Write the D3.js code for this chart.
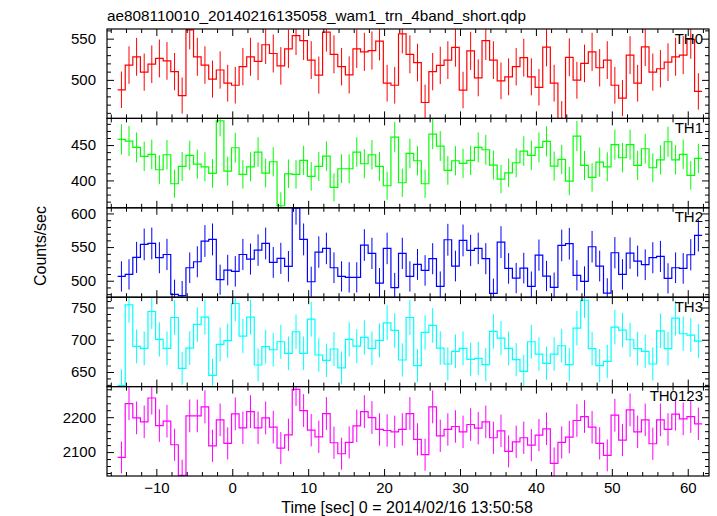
<!DOCTYPE html>
<html>
<head>
<meta charset="utf-8">
<script src="https://cdn.jsdelivr.net/npm/d3@7"></script>
<style>
  html, body { margin: 0; padding: 0; background: #fff; }
  svg { display: block; font-family: "Liberation Sans", Arial, Helvetica, sans-serif; }
</style>
</head>
<body>
<svg id="chart" width="717" height="516"></svg>
<script>
// ---- data (1 s bins) ----
const binStart = -15.1;
const binWidth = 1;
const th0 = [488, 518, 528, 509.4, 519, 526, 523, 510, 481, 560.6,
  528, 518, 501, 512, 496, 493.5, 516, 528, 522.5, 542.6,
  532, 517, 537.7, 553.7, 547.5, 524, 505.8, 558, 531, 516,
  506, 537.7, 534, 535.6, 547, 496, 493.5, 555.7, 531, 521,
  472.6, 510, 517.6, 524, 539.3, 487.7, 535.2, 502.5, 547.5, 524,
  498.8, 503.7, 516, 527, 503.7, 491, 539.7, 496, 453, 527.4,
  499.6, 520, 534, 514.7, 524, 493.5, 477.9, 530, 496, 540,
  509.4, 513.5, 521.5, 528, 530, 549, 486];
const th1 = [458.0, 455.7, 446.7, 434.0, 436.8, 415.1, 436.3, 395.3, 419.8, 435.4,
  423.1, 419.3, 409.9, 484.4, 413.2, 446.2, 408.5, 419.3, 440.1, 410.4,
  426.4, 364.2, 409.4, 408.5, 428.3, 405.7, 419.8, 434.4, 390.1, 416.5,
  416.5, 440.1, 423.6, 436.3, 419.8, 392.5, 461.3, 396.7, 438.2, 427.8,
  395.3, 465.6, 448.6, 414.2, 427.8, 424.1, 428.3, 446.7, 443.4, 421.7,
  401.9, 410.8, 425.0, 441.5, 435.4, 446.7, 455.2, 420.3, 429.7, 399.1,
  462.7, 421.2, 404.2, 425.9, 419.3, 450.5, 432.1, 450.5, 421.2, 444.8,
  417.9, 429.2, 454.7, 429.2, 436.8, 407.1, 431.1];
const th2 = [506.4, 509.4, 534.7, 554, 555.4, 534.2, 539, 479.7, 477.7, 519.3,
  528.2, 559, 561.4, 501.5, 515.8, 513.9, 539, 532.2, 545.5, 555.4,
  527.2, 533.2, 521.3, 608, 561.4, 498.5, 542.6, 548, 519.3, 506.4,
  505, 505, 553, 540.6, 496.5, 548, 489.6, 540.6, 506.4, 524.3,
  515.3, 532.7, 491.6, 560.9, 521.8, 559.9, 545, 548, 532.7, 481.2,
  557.4, 518.3, 504, 518.8, 491.6, 538, 506.9, 490, 552.5, 555,
  508, 499, 550.5, 521.8, 481.7, 541.6, 509.4, 541, 529.2, 523.8,
  534.2, 536.1, 503.5, 519.3, 518.3, 538.6, 567.3];
const th3 = [629, 754, 689.7, 686.6, 743.8, 700.5, 686.6, 734.5, 655.7, 687.1,
  723.7, 735, 644.8, 692.8, 698.5, 756.2, 705.7, 735, 660.8, 689.2,
  684.5, 696.9, 678.9, 712.4, 678.9, 732, 676.3, 668, 685.6, 656.2,
  700.5, 690.2, 703.6, 686.6, 699, 726.3, 714.4, 668.6, 734.5, 659.8,
  711.3, 722.2, 687.1, 662.4, 682, 686.6, 669.6, 671.1, 661.3, 712.9,
  702.6, 686.6, 669.1, 651, 696.9, 677.8, 663.4, 677.8, 690.7, 661.3,
  718, 761.3, 686.1, 659.8, 666.5, 719.6, 715, 700, 686.1, 682,
  662.4, 713.9, 686.1, 733.5, 709.3, 707.2, 697.9];
const th0123 = [2084.8, 2239, 2198, 2186.7, 2255, 2176, 2188.6, 2121, 2033, 2203.8,
  2203.8, 2229.5, 2118, 2192.4, 2124.8, 2209.5, 2169.5, 2216, 2169.5, 2198,
  2171.4, 2111.4, 2149.5, 2280, 2219, 2162.9, 2143.8, 2210.5, 2126.7, 2095.2,
  2127.6, 2175.2, 2216, 2199, 2164.8, 2161.9, 2158, 2164.8, 2210.5, 2136.2,
  2092.4, 2229.5, 2146.7, 2164.8, 2173.3, 2158, 2179, 2168.6, 2186.7, 2141,
  2161, 2101.9, 2129.5, 2141, 2120, 2148.6, 2166.7, 2067.6, 2127.6, 2142.9,
  2190.5, 2201.9, 2171.4, 2124.8, 2090.5, 2205.7, 2134.3, 2221, 2158, 2192.4,
  2123.8, 2192.4, 2164.8, 2208.6, 2195.2, 2201.9, 2181];

const panelNames = ["TH0", "TH1", "TH2", "TH3", "TH0123"];
const panelColors = ["#ff0000", "#00ff00", "#0000ff", "#00ffff", "#ff00ff"];
const panelSeries = [th0, th1, th2, th3, th0123];
const yRanges = [[453.3, 561.7], [361.3, 487.7], [475.5, 608.4], [627.3, 766], [2031.4, 2287.7]];
const yMajorStep = [50, 50, 50, 50, 100];
const yMinorStep = [10, 10, 10, 10, 20];
const xRange = [-16.5, 62.8];
const xMajorTicks = [-10, 0, 10, 20, 30, 40, 50, 60];
const titleText = "ae808110010_20140216135058_wam1_trn_4band_short.qdp";
const xLabel = "Time [sec] 0 = 2014/02/16 13:50:58";
const yLabel = "Counts/sec";

// ---- layout ----
const plotL = 107, plotR = 709, plotT = 29, plotB = 476;
const nP = panelSeries.length;
const pH = (plotB - plotT) / nP;

const svg = d3.select("#chart");
const x = d3.scaleLinear().domain(xRange).range([plotL, plotR]);

const xMinor = d3.range(-16, 63, 2).filter(v => v % 10 !== 0);
const majorLen = 7, minorLen = 4;

function styleAxis(g) {
  g.select(".domain").remove();
  g.selectAll(".tick line").attr("stroke", "#000").attr("stroke-width", 1);
  g.selectAll(".tick text").attr("fill", "#000").attr("font-size", 15);
}

panelSeries.forEach((vals, p) => {
  const y0 = plotT + p * pH, y1 = y0 + pH;
  const y = d3.scaleLinear().domain(yRanges[p]).range([y1, y0]);
  const g = svg.append("g");

  const clipId = "clip" + p;
  svg.append("clipPath").attr("id", clipId)
    .append("rect").attr("x", plotL).attr("y", y0).attr("width", plotR - plotL).attr("height", pH);

  const data = vals.map((v, i) => ({ t0: binStart + i * binWidth, v: v, e: Math.sqrt(v) }));
  const plot = g.append("g").attr("clip-path", `url(#${clipId})`);

  // error bars
  plot.selectAll("line.err").data(data).enter().append("line")
    .attr("class", "err")
    .attr("x1", d => x(d.t0 + binWidth / 2)).attr("x2", d => x(d.t0 + binWidth / 2))
    .attr("y1", d => y(d.v - d.e)).attr("y2", d => y(d.v + d.e))
    .attr("stroke", panelColors[p]).attr("stroke-width", 1);

  // step line
  const pts = data.map(d => [d.t0, d.v]);
  pts.push([data[data.length - 1].t0 + binWidth, data[data.length - 1].v]);
  const line = d3.line().x(d => x(d[0])).y(d => y(d[1])).curve(d3.curveStepAfter);
  plot.append("path").attr("d", line(pts)).attr("fill", "none")
    .attr("stroke", panelColors[p]).attr("stroke-width", 1.2);

  // y ticks
  const [lo, hi] = yRanges[p];
  const yMaj = d3.range(Math.ceil(lo / yMajorStep[p]) * yMajorStep[p], hi + 1e-9, yMajorStep[p]);
  const yMin = d3.range(Math.ceil(lo / yMinorStep[p]) * yMinorStep[p], hi + 1e-9, yMinorStep[p])
    .filter(v => Math.abs(v % yMajorStep[p]) > 1e-9);

  g.append("g").attr("transform", `translate(${plotL},0)`)
    .call(d3.axisLeft(y).tickValues(yMaj).tickSize(-majorLen).tickPadding(11).tickFormat(d3.format("d")))
    .call(styleAxis);
  g.append("g").attr("transform", `translate(${plotL},0)`)
    .call(d3.axisLeft(y).tickValues(yMin).tickSize(-minorLen).tickFormat(""))
    .call(styleAxis);
  g.append("g").attr("transform", `translate(${plotR},0)`)
    .call(d3.axisRight(y).tickValues(yMaj).tickSize(-majorLen).tickFormat(""))
    .call(styleAxis);
  g.append("g").attr("transform", `translate(${plotR},0)`)
    .call(d3.axisRight(y).tickValues(yMin).tickSize(-minorLen).tickFormat(""))
    .call(styleAxis);

  // x ticks top & bottom of panel
  g.append("g").attr("transform", `translate(0,${y0})`)
    .call(d3.axisTop(x).tickValues(xMajorTicks).tickSize(-majorLen).tickFormat(""))
    .call(styleAxis);
  g.append("g").attr("transform", `translate(0,${y0})`)
    .call(d3.axisTop(x).tickValues(xMinor).tickSize(-minorLen).tickFormat(""))
    .call(styleAxis);
  const isLast = p === nP - 1;
  g.append("g").attr("transform", `translate(0,${y1})`)
    .call(d3.axisBottom(x).tickValues(xMajorTicks).tickSize(-majorLen).tickPadding(6)
      .tickFormat(isLast ? (d => d < 0 ? "\u2212" + Math.abs(d) : d) : ""))
    .call(styleAxis);
  g.append("g").attr("transform", `translate(0,${y1})`)
    .call(d3.axisBottom(x).tickValues(xMinor).tickSize(-minorLen).tickFormat(""))
    .call(styleAxis);

  // frame
  g.append("rect").attr("x", plotL).attr("y", y0).attr("width", plotR - plotL).attr("height", pH)
    .attr("fill", "none").attr("stroke", "#000").attr("stroke-width", 1.2);

  // panel label
  g.append("text").attr("x", plotR - 6).attr("y", y0 + 14.5)
    .attr("text-anchor", "end").attr("font-size", 15).attr("fill", "#000")
    .text(panelNames[p]);
});

// title & axis labels
svg.append("text").attr("x", plotL).attr("y", 20.5).attr("font-size", 15.3).attr("fill", "#000").text(titleText);
svg.append("text").attr("x", 407).attr("y", 512.5).attr("text-anchor", "middle")
  .attr("font-size", 16).attr("fill", "#000").text(xLabel);
svg.append("text").attr("transform", `translate(46,246) rotate(-90)`)
  .attr("text-anchor", "middle").attr("font-size", 16).attr("fill", "#000").text(yLabel);
</script>
</body>
</html>
